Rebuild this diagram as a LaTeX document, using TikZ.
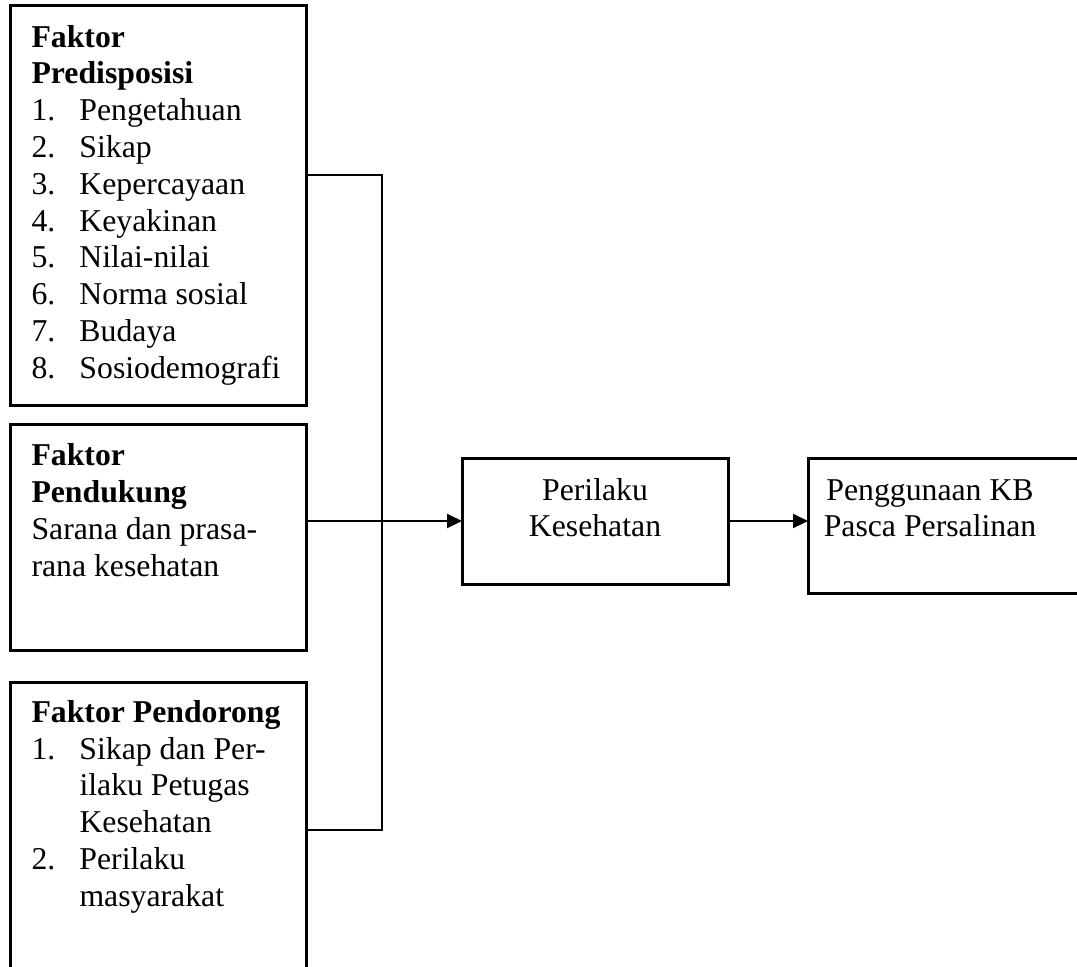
\documentclass[tikz,border=0pt]{standalone}
\usepackage{fontspec}
\setmainfont{Liberation Serif}
\usetikzlibrary{arrows.meta}
\tikzset{
  kotak/.style={draw, line width=1.2pt, inner sep=0pt, outer sep=0pt, anchor=north west},
  garis/.style={line width=0.8pt},
  panah/.style={line width=0.8pt, -{Triangle[length=6pt,width=5.6pt]}},
  teks/.style={inner sep=0pt, anchor=base west, align=left, font=\fontsize{12.7}{14.7}\selectfont},
  tengah/.style={inner sep=0pt, anchor=base, align=center, font=\fontsize{12.7}{14.4}\selectfont}
}
\newcommand{\nomor}[1]{\makebox[19.2pt][l]{#1}}
\newcommand{\lanjut}{\hspace*{19.2pt}}
\begin{document}
\begin{tikzpicture}[x=0.4pt, y=-0.4pt]
        \useasboundingbox (0,0) rectangle (1077,966);                                      %
        \clip (0,0) rectangle (1077,966);                                                  %
        \node [kotak, minimum width=118.4pt, minimum height=159.6pt] (pred)   at (10,6)   {}; %predisposisi
        \node [kotak, minimum width=118.4pt, minimum height=90.4pt]  (dukung) at (10,424) {}; %pendukung
        \node [kotak, minimum width=118.4pt, minimum height=131.2pt] (dorong) at (10,682) {}; %pendorong
        \node [kotak, minimum width=106.4pt, minimum height=50.4pt]  (perilaku) at (462,458) {}; %
        \node [kotak, minimum width=116.8pt, minimum height=54pt]    (kb)     at (808,458) {}; %
        % base = last line of each text
        \node [teks] (tpred) at (31,378) {\textbf{Faktor}\\ \textbf{Predisposisi}\\
              \nomor{1.}Pengetahuan\\ \nomor{2.}Sikap\\ \nomor{3.}Kepercayaan\\
              \nomor{4.}Keyakinan\\ \nomor{5.}Nilai-nilai\\ \nomor{6.}Norma sosial\\
              \nomor{7.}Budaya\\ \nomor{8.}Sosiodemografi};
        \node [teks] (tdukung) at (31,576) {\textbf{Faktor}\\ \textbf{Pendukung}\\
              Sarana dan prasa-\\ rana kesehatan};
        \node [teks] (tdorong) at (31,906) {\textbf{Faktor Pendorong}\\
              \nomor{1.}Sikap dan Per-\\ \lanjut ilaku Petugas\\ \lanjut Kesehatan\\
              \nomor{2.}Perilaku\\ \lanjut masyarakat};
        \node [tengah] (tperilaku) at (595,536) {Perilaku\\ Kesehatan};
        \node [tengah] (tkb) at (930,536) {Penggunaan KB\\ Pasca Persalinan};
        \coordinate (atas)  at (382,175);                                                  %
        \coordinate (bawah) at (382,830);                                                  %
        \draw [garis] (pred.east |- atas) -- (atas) -- (bawah) -- (dorong.east |- bawah);  %
        \draw [panah] (dukung.east |- perilaku.west) -- (perilaku.west);                   %
        \draw [panah] (perilaku.east) -- (kb.west |- perilaku.east);                       %
\end{tikzpicture}
\end{document}
